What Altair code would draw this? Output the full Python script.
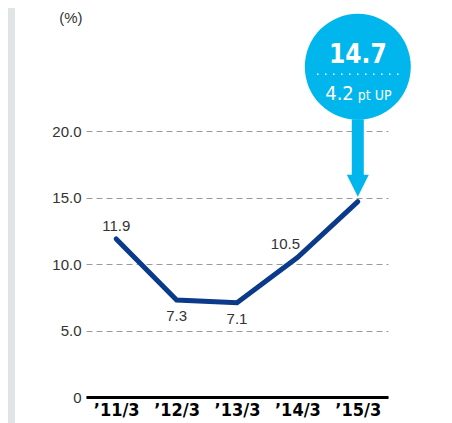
import altair as alt
import pandas as pd

periods = ["’11/3", "’12/3", "’13/3", "’14/3", "’15/3"]
values = [11.9, 7.3, 7.1, 10.5, 14.7]
value_labels = ["11.9", "7.3", "7.1", "10.5", ""]
y_ticks = [0, 5, 10, 15, 20]

callout_period = "’15/3"
callout_value = "14.7"
callout_change = "4.2"
callout_unit = "pt UP"

NAVY = "#0b3a8b"
CYAN = "#00b6ec"
FONT = "Liberation Sans"
NARROW = "DejaVu Sans Condensed, Liberation Sans"

df = pd.DataFrame({"period": periods, "value": values, "label": value_labels})

x_enc = alt.X(
    "period:N",
    sort=periods,
    scale=alt.Scale(type="point", padding=0.5),
    axis=alt.Axis(
        title=None, grid=False, ticks=False, domainColor="#000", domainWidth=3,
        labelFont=NARROW, labelFontWeight="bold", labelFontSize=18, labelColor="#000",
        labelPadding=4, labelAngle=0,
    ),
)
y_scale = alt.Scale(domain=[0, 28], nice=False, zero=True)
y_enc = alt.Y(
    "value:Q",
    scale=y_scale,
    axis=alt.Axis(
        values=y_ticks, grid=True, gridDash=[6, 4], gridColor="#9a9a9a", gridWidth=1,
        domain=False, ticks=False, labelPadding=5, labelFont=FONT, labelFontSize=15,
        labelColor="#333",
        labelExpr="datum.value == 0 ? '0' : format(datum.value, '.1f')",
        title="(%)", titleAngle=0, titleAlign="right", titleBaseline="middle",
        titleX=-4, titleY=-8, titleFont=FONT, titleFontSize=15,
        titleFontWeight="normal", titleColor="#333",
    ),
)

base = alt.Chart(df)

strip = alt.Chart(df).mark_rect(color="#e0e4e5", clip=False).encode(
    x=alt.value(-78), x2=alt.value(-71), y=alt.value(-17), y2=alt.value(410)
)

line = base.mark_line(color=NAVY, strokeWidth=5, strokeCap="round", strokeJoin="miter").encode(
    x=x_enc, y=y_enc
)

lab_kw = dict(font=FONT, fontSize=15, color="#333")
lab_above = base.transform_filter(alt.datum.period == periods[0]).mark_text(dy=-13, **lab_kw).encode(
    x=alt.X("period:N", sort=periods), y="value:Q", text="label:N"
)
lab_below = base.transform_filter(
    (alt.datum.period == periods[1]) | (alt.datum.period == periods[2])
).mark_text(dy=16, **lab_kw).encode(
    x=alt.X("period:N", sort=periods), y="value:Q", text="label:N"
)
lab_left = base.transform_filter(alt.datum.period == periods[3]).mark_text(dx=-12, dy=-14, **lab_kw).encode(
    x=alt.X("period:N", sort=periods), y="value:Q", text="label:N"
)

cdf = pd.DataFrame({
    "period": [callout_period],
    "circle_y": [24.85],
    "shaft_top": [20.9],
    "shaft_bottom": [16.6],
    "head_y": [15.9],
    "value_y": [25.15],
    "dots_y": [24.3],
    "change_y": [22.35],
    "value_text": [callout_value],
    "change_text": [callout_change],
    "unit_text": [callout_unit],
})
cb = alt.Chart(cdf)
cx = alt.X("period:N", sort=periods)

circle = cb.mark_circle(size=11236, color=CYAN, opacity=1).encode(x=cx, y=alt.Y("circle_y:Q"))
shaft = cb.mark_rule(strokeWidth=12, color=CYAN).encode(x=cx, y="shaft_top:Q", y2="shaft_bottom:Q")
head = cb.mark_point(shape="M-1,-1L1,-1L0,1Z", size=484, filled=True, color=CYAN, opacity=1).encode(
    x=cx, y="head_y:Q"
)
value_txt = cb.mark_text(font=NARROW, fontWeight="bold", fontSize=26, color="white", baseline="alphabetic").encode(
    x=cx, y="value_y:Q", text="value_text:N"
)
dots = cb.mark_rule(color="white", strokeWidth=1.5, strokeDash=[1.5, 6.5]).encode(
    x=alt.value(231), x2=alt.value(314), y="dots_y:Q"
)
change_txt = cb.mark_text(font=NARROW, fontSize=20, color="white", baseline="alphabetic", align="right", dx=-4).encode(
    x=cx, y="change_y:Q", text="change_text:N"
)
unit_txt = cb.mark_text(font=NARROW, fontSize=14, color="white", baseline="alphabetic", align="left", dx=0).encode(
    x=cx, y="change_y:Q", text="unit_text:N"
)

chart = alt.layer(
    strip, line, lab_above, lab_below, lab_left, circle, shaft, head, value_txt, dots, change_txt, unit_txt
).properties(
    width=302, height=372,
    autosize=alt.AutoSizeParams(type="none"),
    padding={"left": 78, "top": 17, "right": 56, "bottom": 26},
).configure_view(stroke=None)

chart.save("out.html", embed_options={"renderer": "svg", "actions": False})
